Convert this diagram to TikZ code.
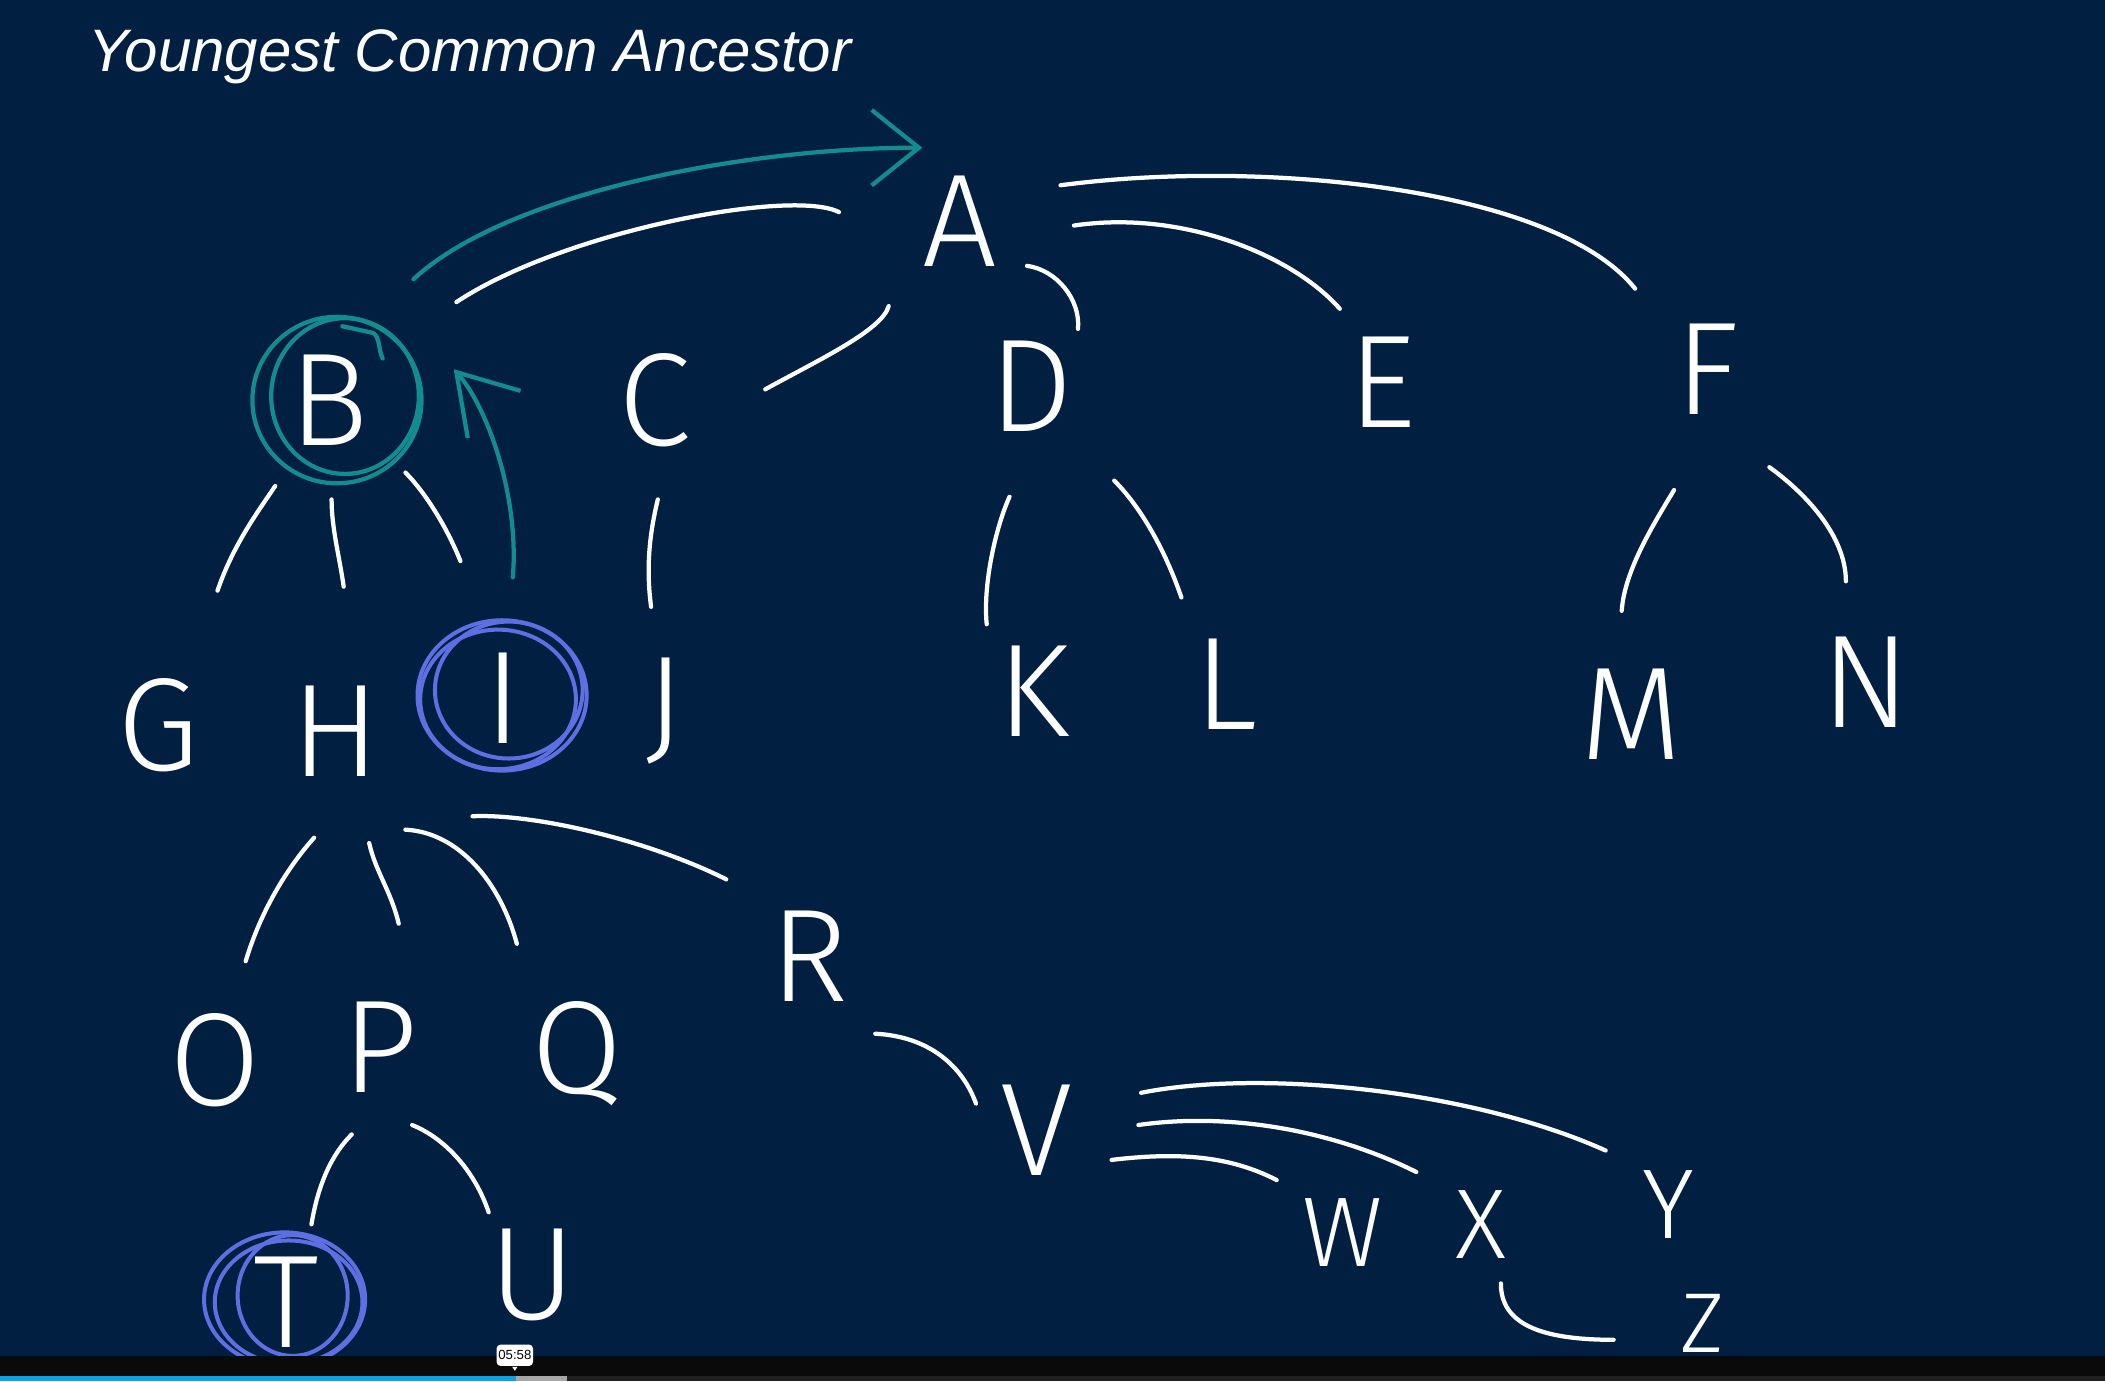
\documentclass[tikz,border=0pt]{standalone}
\usepackage{fontspec}
\usetikzlibrary{calc,arrows.meta}
\newfontfamily\handfont{Fira Sans Light}
\newfontfamily\titlefont{Liberation Sans}
\definecolor{board}{HTML}{011F40}
\definecolor{penteal}{HTML}{138C90}
\definecolor{penblue}{HTML}{5C70E2}
\definecolor{progress}{HTML}{0CA3E3}

\begin{document}
\begin{tikzpicture}[x=0.01cm, y=-0.01cm, line cap=round, line join=round,
  letter/.style={text=white, inner sep=0pt, font=\handfont\fontsize{28}{28}\selectfont},
  small letter/.style={letter, font=\handfont\fontsize{21}{21}\selectfont},
  edge/.style={draw=white, line width=0.9pt},
  tealpen/.style={draw=penteal, line width=0.9pt},
  bluepen/.style={draw=penblue, line width=0.85pt}]
  \useasboundingbox (0,0) rectangle (1568,1029);
  \fill[board] (0,0) rectangle (1568,1029);
  \node[anchor=base west, text=white, inner sep=0pt, font=\titlefont\itshape\fontsize{12.7}{14}\selectfont] (title) at (65,53) {Youngest Common Ancestor};

  % the tree
  \node[letter] (A) at (715,165) {A};
  \node[letter] (B) at (245,298) {B};
  \node[letter] (C) at (488,298) {C};
  \node[letter] (D) at (768,288) {D};
  \node[letter] (E) at (1030,285) {E};
  \node[letter] (F) at (1272,275) {F};
  \node[letter] (G) at (118,540) {G};
  \node[letter] (H) at (250,545) {H};
  \node[letter] (I) at (375,520) {I};
  \node[letter] (J) at (495,530) {J};
  \node[letter] (K) at (770,515) {K};
  \node[letter] (L) at (913,510) {L};
  \node[letter] (M) at (1215,532) {M};
  \node[letter] (N) at (1390,508) {N};
  \node[letter] (O) at (160,790) {O};
  \node[letter] (P) at (283,780) {P};
  \node[letter] (Q) at (430,785) {Q};
  \node[letter] (R) at (603,712) {R};
  \node[letter] (T) at (213,970) {T};
  \node[letter] (U) at (397,950) {U};
  \node[letter] (V) at (772,842) {V};
  \node[small letter] (W) at (1000,918) {W};
  \node[small letter] (X) at (1103,912) {X};
  \node[small letter] (Y) at (1243,897) {Y};
  \node[small letter, font=\handfont\fontsize{18}{18}\selectfont] (Z) at (1268,986) {Z};

  \draw[edge] ($(B)+(95,-73)$) .. controls +(80,-53) and +(-35,-18) .. ($(A)+(-90,-7)$);
  \draw[edge] ($(C)+(82,-8)$) .. controls +(40,-22) and +(-5,18) .. ($(A)+(-53,63)$);
  \draw[edge] ($(D)+(35,-43)$) .. controls +(2,-22) and +(22,3) .. ($(A)+(50,33)$);
  \draw[edge] ($(E)+(-32,-55)$) .. controls +(-35,-40) and +(80,-12) .. ($(A)+(85,3)$);
  \draw[edge] ($(F)+(-54,-60)$) .. controls +(-60,-75) and +(150,-20) .. ($(A)+(75,-27)$);
  \draw[edge] ($(G)+(44,-100)$) .. controls +(12,-35) and +(-12,18) .. ($(B)+(-40,64)$);
  \draw[edge] ($(H)+(6,-108)$) .. controls +(-3,-22) and +(0,22) .. ($(B)+(2,74)$);
  \draw[edge] ($(I)+(-32,-102)$) .. controls +(-10,-25) and +(15,15) .. ($(B)+(57,54)$);
  \draw[edge] ($(J)+(-10,-78)$) .. controls +(-4,-30) and +(-6,25) .. ($(C)+(2,74)$);
  \draw[edge] ($(K)+(-35,-50)$) .. controls +(-3,-30) and +(-10,22) .. ($(D)+(-16,82)$);
  \draw[edge] ($(L)+(-33,-65)$) .. controls +(-12,-35) and +(20,20) .. ($(D)+(62,70)$);
  \draw[edge] ($(M)+(-7,-77)$) .. controls +(2,-30) and +(-15,25) .. ($(F)+(-25,90)$);
  \draw[edge] ($(N)+(-15,-75)$) .. controls +(0,-35) and +(25,18) .. ($(F)+(46,73)$);
  \draw[edge] ($(O)+(23,-74)$) .. controls +(12,-40) and +(-18,20) .. ($(H)+(-16,79)$);
  \draw[edge] ($(P)+(14,-92)$) .. controls +(-6,-25) and +(5,22) .. ($(H)+(25,83)$);
  \draw[edge] ($(Q)+(-45,-82)$) .. controls +(-12,-45) and +(40,2) .. ($(H)+(52,73)$);
  \draw[edge] ($(R)+(-62,-57)$) .. controls +(-60,-30) and +(45,-2) .. ($(H)+(102,63)$);
  \draw[edge] ($(T)+(19,-58)$) .. controls +(5,-30) and +(-15,15) .. ($(P)+(-21,65)$);
  \draw[edge] ($(U)+(-33,-47)$) .. controls +(-10,-30) and +(25,10) .. ($(P)+(24,58)$);
  \draw[edge] ($(V)+(-45,-20)$) .. controls +(-10,-28) and +(40,2) .. ($(R)+(49,58)$);
  \draw[edge] ($(W)+(-49,-39)$) .. controls +(-35,-18) and +(50,-6) .. ($(V)+(56,22)$);
  \draw[edge] ($(X)+(-48,-39)$) .. controls +(-60,-30) and +(70,-10) .. ($(V)+(76,-4)$);
  \draw[edge] ($(Y)+(-47,-40)$) .. controls +(-100,-45) and +(90,-18) .. ($(V)+(78,-28)$);
  \draw[edge] ($(Z)+(-66,12)$) .. controls +(-55,0) and +(0,30) .. ($(X)+(15,44)$);

  % marks in colour
  \draw[tealpen] ($(B)+(6,0)$) ellipse [x radius=63, y radius=62];
  \draw[tealpen] ($(B)+(12,-3)$) ellipse [x radius=55, y radius=58];
  \draw[tealpen] ($(B)+(10,-55)$) -- ($(B)+(33,-50)$) .. controls +(5,3) and +(-3,-6) .. ($(B)+(40,-31)$);
  \draw[tealpen, -{Straight Barb[length=10pt,width=16pt]}] ($(B)+(63,-90)$) .. controls +(70,-65) and +(-130,0) .. ($(A)+(-28,-55)$);
  \draw[tealpen, -{Straight Barb[length=12pt,width=15pt]}] ($(I)+(7,-90)$) .. controls +(5,-60) and +(25,28) .. ($(B)+(93,-23)$);
  \draw[bluepen] ($(I)+(-1,-2)$) ellipse [x radius=63, y radius=56];
  \draw[bluepen] ($(I)+(-4,1)$) ellipse [x radius=58, y radius=52];
  \draw[bluepen] ($(I)+(4,-6)$) ellipse [x radius=55, y radius=51];
  \draw[bluepen] ($(T)+(-1,-2)$) ellipse [x radius=60, y radius=50];
  \draw[bluepen] ($(T)+(2,0)$) ellipse [x radius=55, y radius=46];
  \draw[bluepen] ($(T)+(5,-5)$) ellipse [x radius=41, y radius=45];

  % player bar
  \fill[black!96] (0,1010) rectangle (1568,1029);
  \fill[progress] (0,1025) rectangle (384,1029);
  \fill[gray!70] (384,1025) rectangle (422,1029);
  \fill[gray!25!black] (422,1025) rectangle (1568,1029);
  \node[fill=white, rounded corners=0.8pt, inner sep=0pt, minimum width=7.7pt, minimum height=4.5pt, font=\titlefont\fontsize{2.8}{3}\selectfont] (stamp) at (383.5,1009.5) {05:58};
  \fill[white] ($(stamp.south)+(-2,0)$) -- ($(stamp.south)+(2,0)$) -- ($(stamp.south)+(0,3)$) -- cycle;
\end{tikzpicture}
\end{document}
